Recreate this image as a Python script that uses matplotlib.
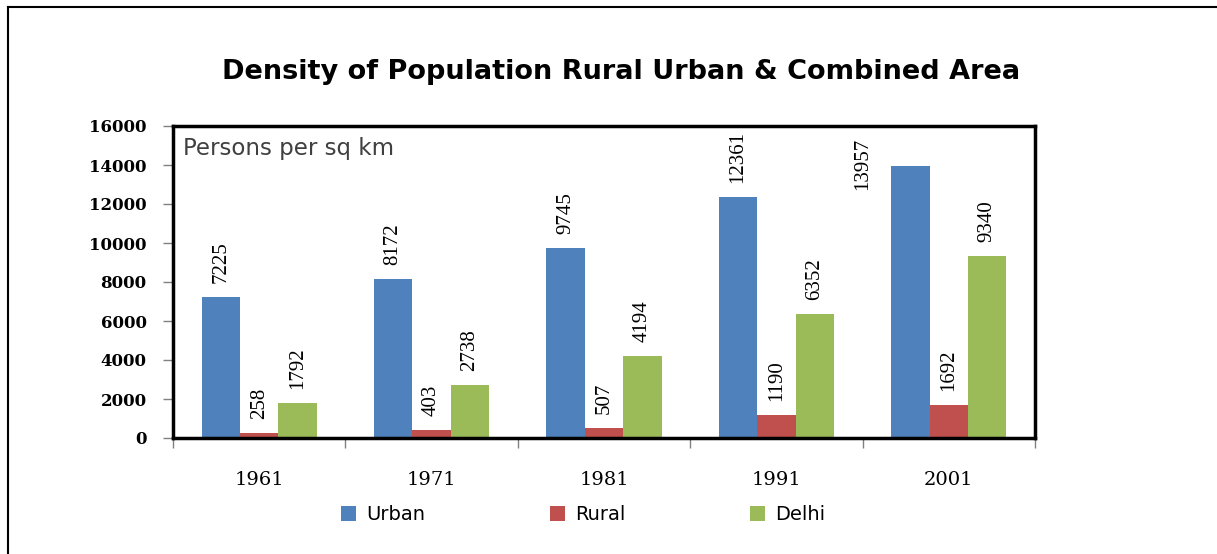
import matplotlib
matplotlib.use("Agg")
import matplotlib.pyplot as plt
from matplotlib.lines import Line2D
from matplotlib.patches import Patch
import numpy as np

years = ["1961", "1971", "1981", "1991", "2001"]
urban = [7225, 8172, 9745, 12361, 13957]
rural = [258, 403, 507, 1190, 1692]
delhi = [1792, 2738, 4194, 6352, 9340]
series_names = ["Urban", "Rural", "Delhi"]
colors = ["#4F81BD", "#C0504D", "#9BBB59"]
yticks = list(range(0, 16001, 2000))

W, H = 1217, 554
fig = plt.figure(figsize=(W / 100, H / 100), dpi=100)
fig.patch.set_facecolor("white")

# outer border (left and top only)
fig.add_artist(Line2D([8 / W, 8 / W], [0, 1 - 7 / H], transform=fig.transFigure, color="black", lw=1.5))
fig.add_artist(Line2D([8 / W, 1], [1 - 7 / H, 1 - 7 / H], transform=fig.transFigure, color="black", lw=1.5))

left, right, bottom, top = 173 / W, 1035 / W, 1 - 438 / H, 1 - 126 / H
ax = fig.add_axes([left, bottom, right - left, top - bottom])

x = np.arange(len(years))
bw = 0.223
data = [urban, rural, delhi]
serif = "Liberation Serif"
for i, (vals, c) in enumerate(zip(data, colors)):
    xs = x + (i - 1) * bw
    ax.bar(xs, vals, width=bw, color=c, edgecolor="none", zorder=2)
    for j, (xx, v) in enumerate(zip(xs, vals)):
        if i == 0 and j == len(years) - 1:
            # label that doesn't fit above the bar: placed to its left
            ax.text(xx - 0.275, 15400, str(v), rotation=90, ha="center", va="top",
                    fontsize=15, family=serif)
        else:
            ax.annotate(str(v), (xx, v), xytext=(0, 10), textcoords="offset points",
                        rotation=90, ha="center", va="bottom", fontsize=15, family=serif)

ax.set_xlim(-0.5, len(years) - 0.5)
ax.set_ylim(0, 16000)
ax.set_yticks(yticks)
ax.set_yticklabels([str(t) for t in yticks], fontsize=12, family="DejaVu Serif", fontweight="bold")
ax.tick_params(axis="y", direction="out", length=7, color="#808080", width=1, pad=12)

ax.set_xticks(np.arange(len(years) + 1) - 0.5)
ax.set_xticklabels([""] * (len(years) + 1))
ax.tick_params(axis="x", which="major", direction="out", length=7, color="#808080", width=1)
ax.set_xticks(x, minor=True)
ax.set_xticklabels(years, minor=True, fontsize=14, family="DejaVu Serif")
ax.tick_params(axis="x", which="minor", length=0, pad=24)

for s in ax.spines.values():
    s.set_linewidth(2.5)
    s.set_color("black")

ax.text(0.012, 0.965, "Persons per sq km", transform=ax.transAxes, ha="left", va="top",
        fontsize=16.5, family="DejaVu Sans", color="#404040")

fig.text(621 / W, 1 - 72 / H, "Density of Population Rural Urban & Combined Area",
         ha="center", va="center", fontsize=19.5, fontweight="bold", family="DejaVu Sans")

handles = [Patch(facecolor=c, edgecolor="none") for c in colors]
fig.legend(handles, series_names, loc="center", bbox_to_anchor=(583 / W, 1 - 515 / H),
           ncol=3, frameon=False, prop={"family": "DejaVu Sans", "size": 14},
           handlelength=0.8, handleheight=0.8, handletextpad=0.5, columnspacing=6.4)

fig.savefig("out.png", dpi=100, facecolor="white")
